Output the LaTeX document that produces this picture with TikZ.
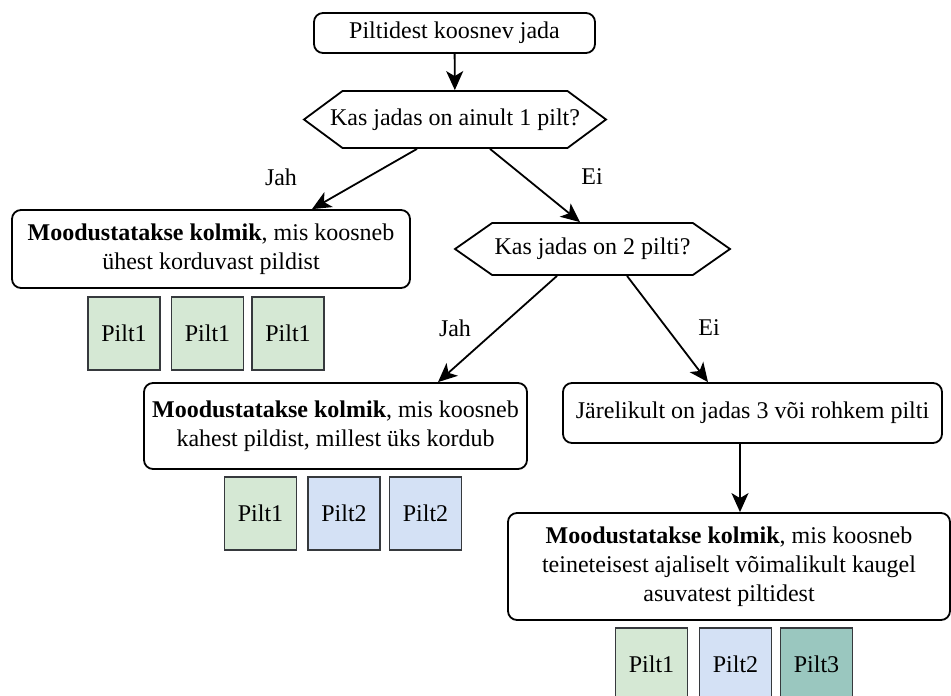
\documentclass[tikz,border=0pt]{standalone}
\usepackage{fontspec}
\setmainfont{Liberation Serif}
\usepackage{tikz}
\usetikzlibrary{arrows.meta}
\usetikzlibrary{shapes.symbols}
\definecolor{piltgreen}{HTML}{D5E8D4}
\definecolor{piltblue}{HTML}{D4E1F5}
\definecolor{piltteal}{HTML}{9AC7BF}
\definecolor{piltline}{HTML}{36393D}
\tikzstyle{every node}=[font=\fontsize{24}{29}\selectfont]
\tikzstyle{box}=[draw, rounded corners=9pt, align=center, inner sep=0pt]
\tikzstyle{question}=[draw, signal, signal to=west and east, signal pointer angle=70, inner sep=0pt]
\tikzstyle{pilt}=[draw=piltline, minimum width=72pt, minimum height=73pt, inner sep=0pt]

\begin{document}
\begin{tikzpicture}[x=1pt, y=-1pt, line width=1.8pt, >={Stealth[length=19pt, width=17pt, inset=5pt]}]
                \useasboundingbox (0, 0) rectangle (951, 696);
                \node [box, minimum width=281pt, minimum height=40pt] (input) at (454.5, 33) {Piltidest koosnev jada};
                \node [question, inner xsep=-20pt, signal pointer angle=73, minimum width=302pt, minimum height=57pt] (q1) at (455, 119.5) {Kas jadas on ainult 1 pilt?};
                \node [box, minimum width=398pt, minimum height=78pt] (one) at (211, 249) {\textbf{Moodustatakse kolmik}, mis koosneb\\ühest korduvast pildist};
                \node [question, minimum width=275pt, minimum height=52pt] (q2) at (592.5, 249) {Kas jadas on 2 pilti?};
                \node [box, minimum width=383pt, minimum height=86pt] (two) at (335.5, 426) {\textbf{Moodustatakse kolmik}, mis koosneb\\kahest pildist, millest üks kordub};
                \node [box, minimum width=379pt, minimum height=60pt] (more) at (752.5, 413) {Järelikult on jadas 3 või rohkem pilti};
                \node [box, minimum width=442pt, minimum height=107pt] (three) at (729, 566.5) {\textbf{Moodustatakse kolmik}, mis koosneb\\teineteisest ajaliselt võimalikult kaugel\\asuvatest piltidest};
                % pildid
                \node [pilt, fill=piltgreen] (oneA) at (124, 333.5) {Pilt1};
                \node [pilt, fill=piltgreen] (oneB) at (207.5, 333.5) {Pilt1};
                \node [pilt, fill=piltgreen] (oneC) at (288, 333.5) {Pilt1};
                \node [pilt, fill=piltgreen] (twoA) at (260.5, 513.5) {Pilt1};
                \node [pilt, fill=piltblue] (twoB) at (344, 513.5) {Pilt2};
                \node [pilt, fill=piltblue] (twoC) at (425.5, 513.5) {Pilt2};
                \node [pilt, fill=piltgreen] (threeA) at (651.5, 664.5) {Pilt1};
                \node [pilt, fill=piltblue] (threeB) at (735.5, 664.5) {Pilt2};
                \node [pilt, fill=piltteal] (threeC) at (816.5, 664.5) {Pilt3};
                % nooled
                \draw [->] (input) -- (q1);
                \draw [->] ([xshift=-38pt]q1.south) -- ([xshift=101pt]one.north);
                \draw [->] ([xshift=35pt]q1.south) -- ([xshift=-12.5pt]q2.north);
                \draw [->] ([xshift=-35.5pt]q2.south) -- ([xshift=102.5pt]two.north);
                \draw [->] ([xshift=34.5pt]q2.south) -- ([xshift=-44.5pt]more.north);
                \draw [->] ([xshift=-12.5pt]more.south) -- ([xshift=11pt]three.north);
                \node (yes1) at (281, 177) {Jah};
                \node (no1) at (592, 177) {Ei};
                \node (yes2) at (455, 328) {Jah};
                \node (no2) at (709, 328) {Ei};
            \end{tikzpicture}
\end{document}
